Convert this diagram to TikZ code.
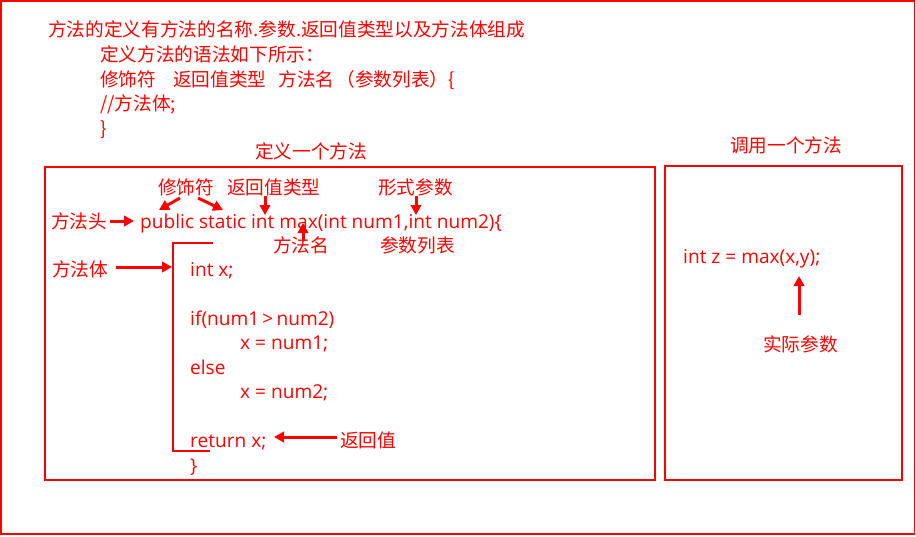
\documentclass[tikz,border=0pt]{standalone}
\usepackage{fontspec}
\newfontfamily\cjk{Noto Sans CJK SC}
\newfontfamily\codef{Open Sans}
\usetikzlibrary{arrows.meta}
\definecolor{rd}{RGB}{255,0,0}
\tikzset{
 txt/.style={anchor=base west, inner sep=0pt, text=rd, font=\cjk\fontsize{18.67}{22}\selectfont},
 code/.style={anchor=base west, inner sep=0pt, text=rd, font=\codef\fontsize{19.1}{22}\selectfont},
 box/.style={draw=rd, line width=2pt},
 arr/.style={draw=rd, line width=3pt, -{Triangle[length=10pt,width=10.5pt]}},
}
\begin{document}
\begin{tikzpicture}[x=1pt,y=-1pt]
\useasboundingbox (0,0) rectangle (916,536);
\draw[draw=rd,line width=1.8pt] (1,1) rectangle (914.5,534);
% header text
\node[txt] (t1) at (48,36) {方法的定义有方法的名称.参数.返回值类型以及方法体组成};
\node[txt] (t2) at (100,61) {定义方法的语法如下所示：};
\node[txt] (t3) at (100,86) {修饰符\hspace{17pt}返回值类型\hspace{12pt}方法名\hspace{2pt}（参数列表）\{};
\node[txt] (t4) at (100,110) {//方法体;};
\node[txt] (t5) at (100,135) {\}};
% boxes
\node[txt] (deftitle) at (255,158) {定义一个方法};
\node[txt] (calltitle) at (730,152) {调用一个方法};
\path[box] (45,167) rectangle (655,480);
\path[box] (665,166) rectangle (902,480);
% left box labels
\node[txt] (mod) at (158,194) {修饰符};
\node[txt] (rtype) at (227,194) {返回值类型};
\node[txt] (formal) at (378,194) {形式参数};
\node[txt] (head) at (51,228) {方法头};
\node[code] (sig) at (140,228) {public static int max(int num1,int num2)\{};
\node[txt] (mname) at (273,252) {方法名};
\node[txt] (plist) at (380,252) {参数列表};
\node[txt] (body) at (52,276) {方法体};
% code body
\node[code] (c1) at (190,276) {int x;};
\node[code] (c2) at (190,325) {if(num1\,>\,num2)};
\node[code] (c3) at (240,349.5) {x = num1;};
\node[code] (c4) at (190,374) {else};
\node[code] (c5) at (240,398.5) {x = num2;};
\node[code] (c6) at (190,447.5) {return x;};
\node[code] (c7) at (190,472) {\}};
\node[txt] (retval) at (340,447) {返回值};
% bracket
\draw[draw=rd, line width=2pt] (213,243) -- (173,243) -- (173,451) -- (210,451);
% right box
\node[code] (call) at (683,263) {int z = max(x,y);};
\node[txt] (actual) at (763,351) {实际参数};
% arrow coordinates
\coordinate (a1s) at (110,221); \coordinate (a1e) at (134,221);
\coordinate (a2s) at (180,198); \coordinate (a2e) at (159,210);
\coordinate (a3s) at (198,198); \coordinate (a3e) at (223,210);
\coordinate (a4s) at (265,196); \coordinate (a4e) at (265,215);
\coordinate (a5s) at (416,196); \coordinate (a5e) at (416,215);
\coordinate (a6s) at (303,241); \coordinate (a6e) at (303,223);
\coordinate (a7s) at (116,267); \coordinate (a7e) at (172,267);
\coordinate (a8s) at (337,437); \coordinate (a8e) at (274,437);
\coordinate (a9s) at (799,315); \coordinate (a9e) at (799,276);
\draw[arr] (a1s) -- (a1e);
\draw[arr] (a2s) -- (a2e);
\draw[arr] (a3s) -- (a3e);
\draw[arr] (a4s) -- (a4e);
\draw[arr] (a5s) -- (a5e);
\draw[arr] (a6s) -- (a6e);
\draw[arr] (a7s) -- (a7e);
\draw[arr] (a8s) -- (a8e);
\draw[arr] (a9s) -- (a9e);
\end{tikzpicture}
\end{document}
